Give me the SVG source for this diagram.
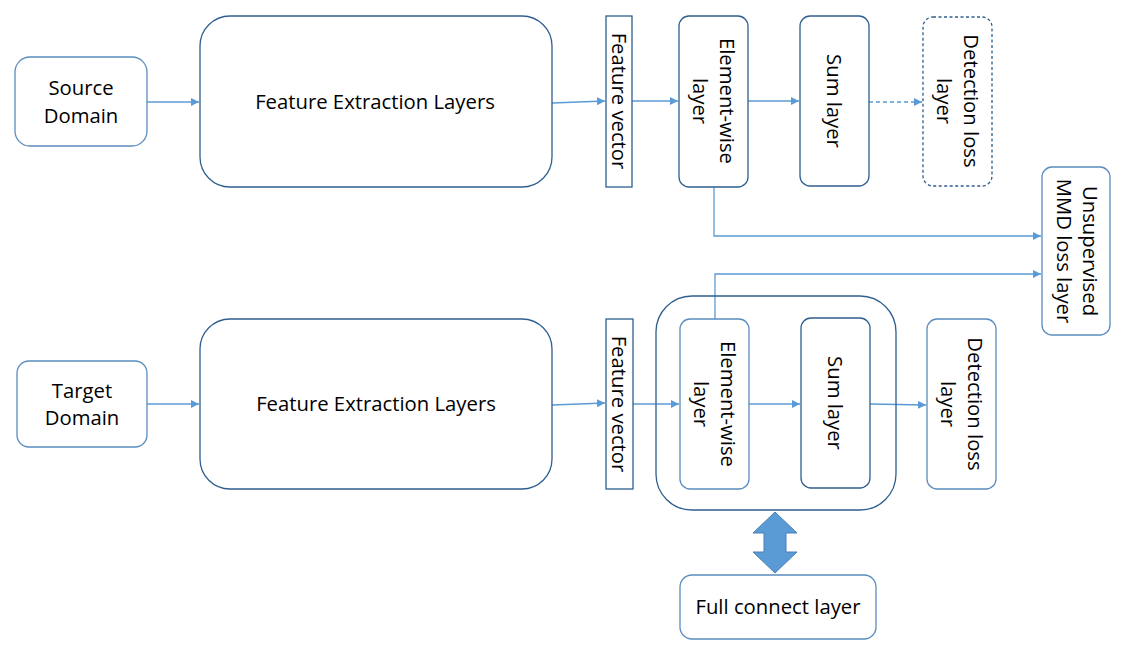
<svg xmlns="http://www.w3.org/2000/svg" width="1134" height="652" viewBox="0 0 1134 652">
<defs>
<style>
.box{fill:#fff;stroke:#2f5f8f;stroke-width:1.3}
.lb{fill:#fff;stroke:#5a8cbf;stroke-width:1.3}
.t{font-family:"Open Sans","Noto Sans",sans-serif;font-size:20.3px;fill:#000;text-anchor:middle}
.c{fill:none;stroke:#5b9bd5;stroke-width:1.3}
</style>
<marker id="ah" viewBox="0 0 10 10" refX="10" refY="5" markerWidth="8" markerHeight="8" markerUnits="userSpaceOnUse" orient="auto">
<path d="M0,0 L10,5 L0,10 z" fill="#5b9bd5"/>
</marker>
</defs>
<rect width="1134" height="652" fill="#fff"/>
<g id="connectors">
<line class="c" x1="147" y1="102" x2="199" y2="102" marker-end="url(#ah)"/>
<line class="c" x1="552" y1="103" x2="605" y2="101" marker-end="url(#ah)"/>
<line class="c" x1="632" y1="101" x2="678" y2="101" marker-end="url(#ah)"/>
<line class="c" x1="748" y1="101" x2="799" y2="101" marker-end="url(#ah)"/>
<line class="c" x1="869" y1="102" x2="922" y2="102" stroke-dasharray="4,3" marker-end="url(#ah)"/>
<polyline class="c" points="714,187 714,236 1041,236" marker-end="url(#ah)"/>
<polyline class="c" points="715,319 715,274 1041,274" marker-end="url(#ah)"/>
<line class="c" x1="147" y1="404" x2="199" y2="404" marker-end="url(#ah)"/>
<line class="c" x1="552" y1="405" x2="605" y2="403" marker-end="url(#ah)"/>
<line class="c" x1="633" y1="404" x2="679" y2="404" marker-end="url(#ah)"/>
<line class="c" x1="749" y1="404" x2="800" y2="404" marker-end="url(#ah)"/>
<line class="c" x1="870" y1="404" x2="926" y2="405" marker-end="url(#ah)"/>
<path d="M775,512 L797,533 L786,533 L786,552 L797,552 L775,573 L753,552 L764,552 L764,533 L753,533 Z" fill="#5b9bd5" stroke="#4a7fb5" stroke-width="1"/>
</g>
<g id="source-domain">
<rect class="lb" x="15" y="57" width="132" height="89" rx="15"/>
<text class="t" x="81" y="95">Source</text>
<text class="t" x="81" y="123">Domain</text>
</g>
<g id="fe-top">
<rect class="box" x="200" y="16" width="352" height="171" rx="30"/>
<text class="t" x="375" y="109">Feature Extraction Layers</text>
</g>
<g id="fv-top">
<rect class="box" x="606" y="16" width="26" height="171"/>
<text class="t" transform="rotate(90 619 101)" x="619" y="108">Feature vector</text>
</g>
<g id="ew-top">
<rect class="box" x="679" y="16" width="69" height="171" rx="10"/>
<text class="t" transform="rotate(90 713 101)" x="713" y="94">Element-wise</text>
<text class="t" transform="rotate(90 713 101)" x="713" y="121">layer</text>
</g>
<g id="sum-top">
<rect class="box" x="800" y="16" width="69" height="170" rx="10"/>
<text class="t" transform="rotate(90 834 101)" x="834" y="108">Sum layer</text>
</g>
<g id="det-top">
<rect class="box" x="923" y="17" width="69" height="169" rx="10" stroke-dasharray="3,2.5"/>
<text class="t" transform="rotate(90 957 101)" x="957" y="94">Detection loss</text>
<text class="t" transform="rotate(90 957 101)" x="957" y="121">layer</text>
</g>
<g id="mmd">
<rect class="lb" x="1042" y="167" width="68" height="168" rx="10"/>
<text class="t" transform="rotate(90 1076 251)" x="1076" y="244">Unsupervised</text>
<text class="t" transform="rotate(90 1076 251)" x="1076" y="270">MMD loss layer</text>
</g>
<g id="target-domain">
<rect class="lb" x="17" y="361" width="130" height="86" rx="12"/>
<text class="t" x="82" y="398">Target</text>
<text class="t" x="82" y="425">Domain</text>
</g>
<g id="fe-bottom">
<rect class="box" x="200" y="319" width="352" height="170" rx="30"/>
<text class="t" x="376" y="411">Feature Extraction Layers</text>
</g>
<g id="fv-bottom">
<rect class="box" x="606" y="319" width="27" height="170"/>
<text class="t" transform="rotate(90 619 404)" x="619" y="411">Feature vector</text>
</g>
<g id="group">
<rect fill="none" stroke="#2f5f8f" stroke-width="1.3" x="656" y="296" width="240" height="214" rx="36"/>
</g>
<g id="ew-bottom">
<rect class="lb" x="680" y="319" width="69" height="170" rx="10"/>
<text class="t" transform="rotate(90 714 404)" x="714" y="397">Element-wise</text>
<text class="t" transform="rotate(90 714 404)" x="714" y="424">layer</text>
</g>
<g id="sum-bottom">
<rect class="box" x="801" y="318" width="69" height="170" rx="10"/>
<text class="t" transform="rotate(90 835 403)" x="835" y="410">Sum layer</text>
</g>
<g id="det-bottom">
<rect class="lb" x="927" y="319" width="69" height="170" rx="10"/>
<text class="t" transform="rotate(90 961 404)" x="961" y="397">Detection loss</text>
<text class="t" transform="rotate(90 961 404)" x="961" y="424">layer</text>
</g>
<g id="full-connect">
<rect class="lb" x="680" y="575" width="196" height="64" rx="12"/>
<text class="t" x="778" y="614">Full connect layer</text>
</g>
</svg>
